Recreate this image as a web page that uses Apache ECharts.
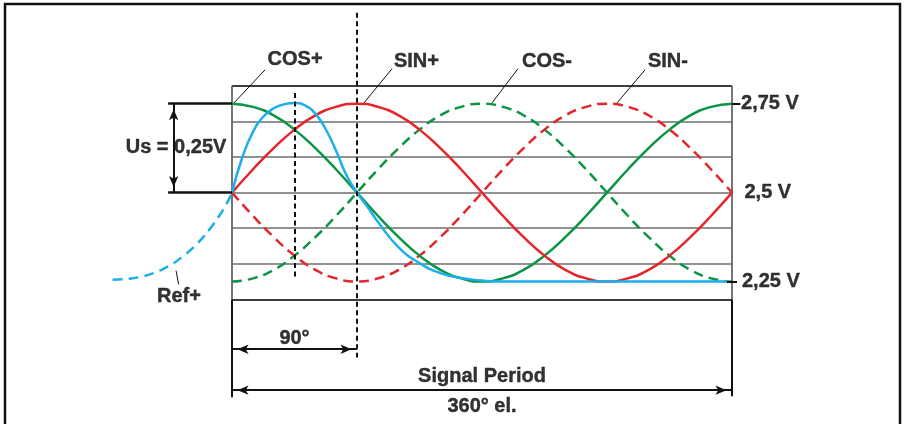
<!DOCTYPE html>
<html>
<head>
<meta charset="utf-8">
<style>
  html, body { margin: 0; padding: 0; background: #fff; }
  #chart { width: 907px; height: 424px; }
</style>
<script src="https://cdn.jsdelivr.net/npm/echarts@6/dist/echarts.min.js"></script>
</head>
<body>
<div id="chart"></div>
<script>
// electrical angle of the samples (degrees)
const angles = [0, 15, 30, 45, 60, 75, 90, 105, 120, 135, 150, 165, 180,
  195, 210, 225, 240, 255, 270, 285, 300, 315, 330, 345, 360];

// track signals (V)
const cosPlus = [2.75, 2.741, 2.717, 2.677, 2.625, 2.565, 2.5, 2.435, 2.375, 2.323, 2.283, 2.259, 2.25,
  2.259, 2.283, 2.323, 2.375, 2.435, 2.5, 2.565, 2.625, 2.677, 2.717, 2.741, 2.75];
const sinPlus = [2.5, 2.565, 2.625, 2.677, 2.717, 2.741, 2.75, 2.741, 2.717, 2.677, 2.625, 2.565, 2.5,
  2.435, 2.375, 2.323, 2.283, 2.259, 2.25, 2.259, 2.283, 2.323, 2.375, 2.435, 2.5];
const cosMinus = [2.25, 2.259, 2.283, 2.323, 2.375, 2.435, 2.5, 2.565, 2.625, 2.677, 2.717, 2.741, 2.75,
  2.741, 2.717, 2.677, 2.625, 2.565, 2.5, 2.435, 2.375, 2.323, 2.283, 2.259, 2.25];
const sinMinus = [2.5, 2.435, 2.375, 2.323, 2.283, 2.259, 2.25, 2.259, 2.283, 2.323, 2.375, 2.435, 2.5,
  2.565, 2.625, 2.677, 2.717, 2.741, 2.75, 2.741, 2.717, 2.677, 2.625, 2.565, 2.5];

// reference pulse Ref+ : dashed lead-in before 0 deg, then the solid pulse
const refLeadAngles = [-86, -75, -65, -55, -45, -35, -25, -15, -5, 0];
const refLeadValues = [2.255, 2.258, 2.264, 2.276, 2.295, 2.322, 2.357, 2.403, 2.461, 2.5];
const refAngles = [0, 7.5, 15, 22.5, 30, 37.5, 45, 52.5, 60, 67.5, 75, 82.5, 90,
  97.5, 105, 120, 135, 150, 165, 180, 195, 270, 357];
const refValues = [2.5, 2.6, 2.67, 2.713, 2.737, 2.748, 2.752, 2.745, 2.722, 2.678, 2.617, 2.548, 2.5,
  2.46, 2.418, 2.346, 2.302, 2.274, 2.26, 2.253, 2.25, 2.25, 2.25];

const curveNames = ['COS+', 'SIN+', 'COS-', 'SIN-'];
const gridLevels = [2.3, 2.4, 2.5, 2.6, 2.7];
const voltTicks = [2.75, 2.5, 2.25];
const voltTickLabels = ['2,75 V', '2,5 V', '2,25 V'];

const GREEN = '#0b9444';
const RED = '#e4262b';
const BLUE = '#1daeec';
const INK = '#111';

const pairs = (xs, ys) => xs.map((x, i) => [x, ys[i]]);

// whole canvas is one grid: 0..360 deg spans 232..732 px, 2.2..2.8 V spans 300..86 px
const X_MIN = -162, X_MAX = 486;
const Y_MIN = 1.85, Y_MAX = 3.04;
const pxPerVolt = 214 / 0.6;

const chart = echarts.init(document.getElementById('chart'));

const solid = (color, width) => ({ color: color, width: width, type: 'solid' });
const seg = (a, b, style) => [{ coord: a, lineStyle: style }, { coord: b }];
const arrowEnd = c => ({ coord: c, symbol: 'arrow', symbolSize: [7, 11], symbolOffset: [0, 5.5] });
const arrow = (a, b) => [Object.assign(arrowEnd(a), { lineStyle: solid(INK, 2) }), arrowEnd(b)];

const gridStyle = solid('#6e6e6e', 1.5);
const edgeStyle = solid('#3c3c3c', 1.8);
const sideStyle = solid('#666', 1.8);
const blackStyle = solid(INK, 2);
const leaderStyle = solid(INK, 1);
const dashStyle = { color: INK, width: 2, type: [5, 3.5] };

const frameLines = [
  ...gridLevels.map(v => seg([0, v], [360, v], gridStyle)),
  seg([0, 2.8], [360, 2.8], edgeStyle),
  seg([0, 2.2], [360, 2.2], edgeStyle),
  seg([0, 2.2], [0, 2.8], sideStyle),
  seg([360, 2.2], [360, 2.8], sideStyle)
];

const guideLines = [
  // period ends below the box
  seg([0, 2.2], [0, 1.925], blackStyle),
  seg([360, 2.2], [360, 1.928], blackStyle),
  // dashed markers at 45 and 90 deg
  seg([90, 3.005], [90, 2.037], dashStyle),
  seg([45, 2.78], [45, 2.262], dashStyle),
  // Us bracket
  seg([-46, 2.75], [0, 2.75], solid(INK, 2.5)),
  seg([-46, 2.5], [0, 2.5], solid(INK, 2.5)),
  arrow([-42, 2.5], [-42, 2.75]),
  // right level ticks
  seg([360, 2.75], [366, 2.75], blackStyle),
  seg([356.4, 2.25], [363.6, 2.25], blackStyle),
  // 90 deg and signal period spans
  arrow([0, 2.06], [90, 2.06]),
  arrow([0, 1.945], [360, 1.945]),
  // label leaders
  seg([1.4, 2.752], [23.8, 2.845], leaderStyle),
  seg([95, 2.752], [115.2, 2.848], leaderStyle),
  seg([187.2, 2.752], [205.9, 2.848], leaderStyle),
  seg([277.2, 2.752], [297.4, 2.845], leaderStyle),
  seg([-40.3, 2.281], [-38.4, 2.242], leaderStyle)
];

const textAt = (text, coord, align) => ({ name: text, value: coord, label: { align: align || 'center' } });
const labels = [
  textAt(curveNames[0], [45.4, 2.873]),
  textAt(curveNames[1], [132.8, 2.869]),
  textAt(curveNames[2], [226.8, 2.869]),
  textAt(curveNames[3], [313.9, 2.867]),
  textAt('Us = 0,25V', [-40.3, 2.626]),
  textAt('Ref+', [-38.2, 2.208]),
  textAt('90°', [45, 2.091]),
  textAt('Signal Period', [180, 1.984]),
  textAt('360° el.', [180, 1.9]),
  textAt(voltTickLabels[0], [366.5, voltTicks[0]], 'left'),
  textAt(voltTickLabels[1], [369, voltTicks[1]], 'left'),
  textAt(voltTickLabels[2], [367.2, voltTicks[2]], 'left')
];

const curve = (name, ys, color, dashed, xs) => ({
  name: name,
  type: 'line',
  data: pairs(xs || angles, ys),
  smooth: true,
  showSymbol: false,
  silent: true,
  lineStyle: { color: color, width: 2.5, type: dashed ? [10, 6] : 'solid' },
  z: 3
});

chart.setOption({
  animation: false,
  backgroundColor: '#fff',
  grid: {
    left: 7, width: 900,
    top: 86 - (Y_MAX - 2.8) * pxPerVolt,
    height: (Y_MAX - Y_MIN) * pxPerVolt
  },
  xAxis: { type: 'value', min: X_MIN, max: X_MAX, show: false },
  yAxis: { type: 'value', min: Y_MIN, max: Y_MAX, show: false },
  graphic: [{
    type: 'rect', silent: true,
    shape: { x: 5, y: 4, width: 895, height: 440 },
    style: { fill: 'none', stroke: '#111', lineWidth: 2.5 }
  }],
  series: [
    {
      name: 'frame', type: 'line', data: [], silent: true,
      markLine: {
        silent: true, symbol: 'none', z: 1, animation: false,
        lineStyle: solid('#6e6e6e', 1.5), label: { show: false }, data: frameLines
      }
    },
    curve(curveNames[2], cosMinus, GREEN, true),
    curve(curveNames[3], sinMinus, RED, true),
    curve(curveNames[0], cosPlus, GREEN, false),
    curve(curveNames[1], sinPlus, RED, false),
    curve('Ref+ lead', refLeadValues, BLUE, true, refLeadAngles),
    curve('Ref+', refValues, BLUE, false, refAngles),
    {
      name: 'notes', type: 'scatter', data: labels, symbolSize: 0, silent: true, z: 5,
      label: {
        show: true, position: [0, 0], formatter: '{b}', verticalAlign: 'middle',
        color: '#000', textBorderWidth: 0.4, textBorderColor: '#000',
        fontFamily: 'Liberation Sans, Arial, sans-serif', fontWeight: 'bold', fontSize: 20
      },
      markLine: {
        silent: true, symbol: 'none', z: 4, animation: false,
        lineStyle: solid(INK, 2), label: { show: false }, data: guideLines
      }
    }
  ]
});
</script>
</body>
</html>
